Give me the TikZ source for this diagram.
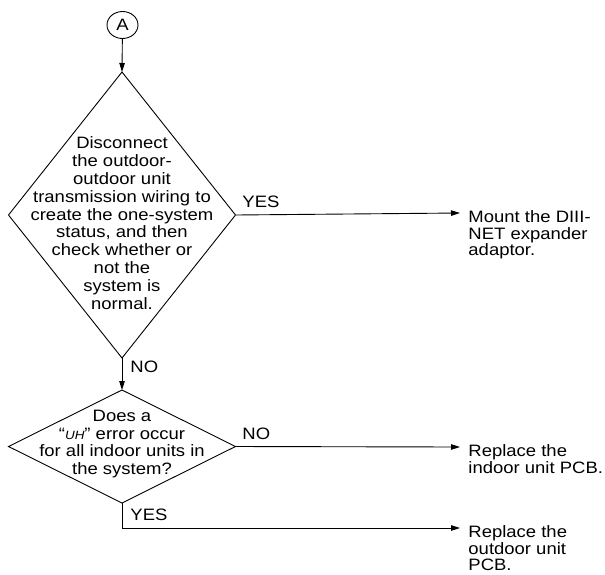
\documentclass[tikz,border=0pt]{standalone}
\usepackage{fontspec}
\setmainfont{Liberation Sans}[FakeStretch=1.12]
\usetikzlibrary{shapes.geometric,arrows.meta}
\begin{document}
\begin{tikzpicture}[x=1pt,y=-1pt,
  every path/.style={line width=0.9pt},
  arr/.style={-{Triangle[length=9pt,width=5.5pt]}},
  decbox/.style={draw, diamond, inner sep=0pt, outer sep=0pt},
  txt/.style={font=\fontsize{16.5}{17.8}\selectfont, align=center, inner sep=0pt},
  lbl/.style={font=\fontsize{16.5}{18}\selectfont, inner sep=0pt, anchor=west},
  res/.style={font=\fontsize{16.5}{16.5}\selectfont, align=left, anchor=north west, inner sep=0pt}]
\useasboundingbox (0,0) rectangle (605,574);
% connector A
\node[draw, ellipse, minimum width=31pt, minimum height=27pt, inner sep=0pt, outer sep=0pt,
      font=\fontsize{16.5}{18}\selectfont] (A) at (122.5,25) {A};
% decision 1
\node[decbox, minimum width=227pt, minimum height=286pt] (d1) at (122,215) {};
\node[txt] (t1) at (122,223) {Disconnect\\the outdoor-\\outdoor unit\\transmission wiring to\\create the one-system\\status, and then\\check whether or\\not the\\system is\\normal.};
% decision 2
\node[decbox, minimum width=227pt, minimum height=113pt] (d2) at (122,446.5) {};
\node[txt] (t2) at (122,444) {Does a\\“\textit{\fontsize{12}{12}\selectfont UH}” error occur\\for all indoor units in\\the system?};
% results
\node[res] (r1) at (468,210.5) {Mount the DIII-\\NET expander\\adaptor.};
\node[res] (r2) at (468,444.5) {Replace the\\indoor unit PCB.};
\node[res] (r3) at (468,525.5) {Replace the\\outdoor unit\\PCB.};
\coordinate (e1) at (460,213);
\coordinate (e2) at (460,447);
\coordinate (e3) at (460,528);
% connectors
\draw[arr] (A) -- (d1.north);
\draw[arr] (d1.south) -- (d2.north);
\draw[arr] (d1.east) -- (e1);
\draw[arr] (d2.east) -- (e2);
\draw[arr] (d2.south) |- (e3);
% labels
\node[lbl] (y1) at (242,202) {YES};
\node[lbl] (n1) at (130,367) {NO};
\node[lbl] (n2) at (242,434) {NO};
\node[lbl] (y2) at (130,515) {YES};
\end{tikzpicture}
\end{document}
